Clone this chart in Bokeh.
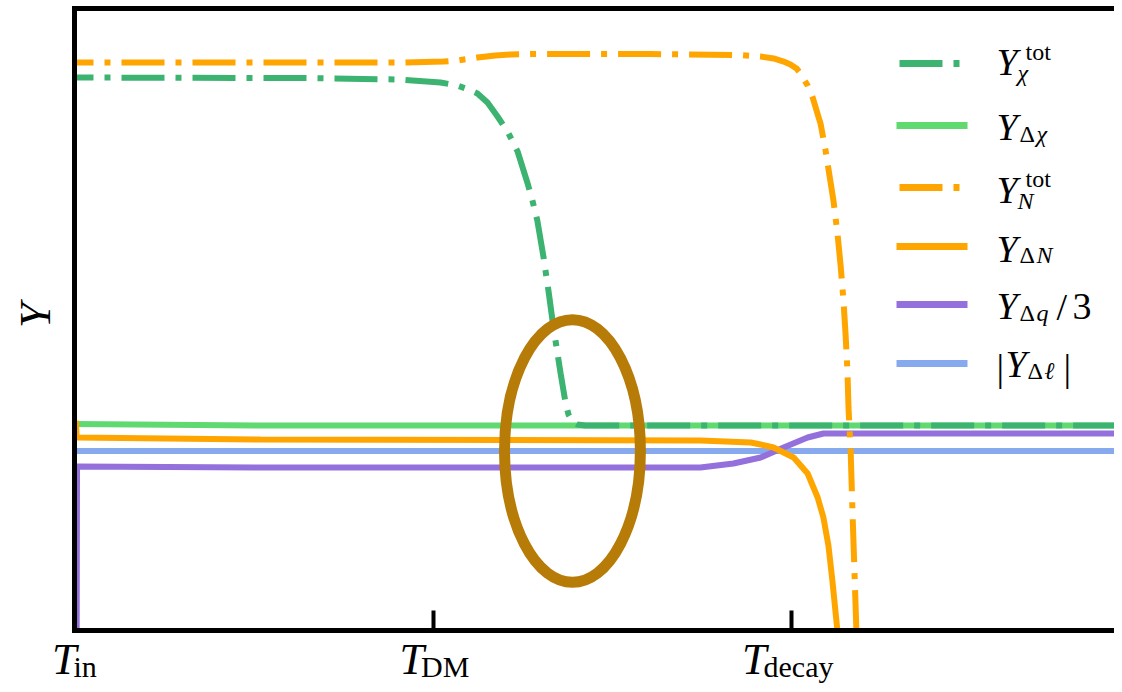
import math
from bokeh.plotting import figure
from bokeh.models import Range1d, FixedTicker, LinearAxis, Label
from bokeh.embed import file_html
from bokeh.resources import INLINE

# ---------------- data ----------------
tick_positions = [0, 1, 2]
tick_main = ["T", "T", "T"]
tick_sub = ["in", "DM", "decay"]

chi_tot_x = [0, 0.630, 0.909, 1.021, 1.068, 1.099, 1.124, 1.152, 1.180, 1.208, 1.236, 1.264,
             1.278, 1.291, 1.308, 1.322, 1.336, 1.356, 1.370, 1.378, 1.389, 1.403, 1.425, 2.923]
chi_tot_y = [89.19, 89.11, 88.87, 88.39, 87.90, 87.26, 86.61, 85.16, 82.90, 80.48, 77.26, 72.10,
             69.19, 66.13, 60.32, 54.84, 48.87, 41.45, 36.61, 34.84, 33.71, 33.23, 33.06, 33.06]

dchi_x = [0.0, 0.519, 2.923]
dchi_y = [33.30, 33.06, 33.06]

N_tot_x = [0, 0.630, 0.909, 1.029, 1.068, 1.124, 1.174, 1.216, 1.280, 1.607, 1.858, 1.914, 1.950,
           1.978, 1.997, 2.014, 2.025, 2.045, 2.059, 2.070, 2.081, 2.095, 2.106, 2.117, 2.128,
           2.137, 2.145, 2.151, 2.156, 2.159, 2.165, 2.170, 2.176, 2.181]
N_tot_y = [91.61, 91.61, 91.61, 91.77, 91.94, 92.42, 92.74, 92.90, 92.98, 92.98, 92.82, 92.58, 92.26,
           91.77, 91.29, 90.65, 89.84, 87.90, 85.97, 83.87, 81.77, 77.42, 73.39, 69.35, 64.19,
           58.87, 53.23, 47.58, 41.94, 35.97, 29.03, 19.35, 8.87, 0.0]

dN_x = [0.004, 0.006, 0.519, 1.746, 1.886, 1.914, 1.950, 2.006, 2.045, 2.073, 2.089, 2.103, 2.114, 2.128]
dN_y = [33.87, 31.13, 30.81, 30.65, 30.32, 30.00, 29.52, 27.90, 25.32, 21.45, 18.23, 13.71, 8.06, 0.0]

dq_x = [0.006, 0.007, 0.519, 1.746, 1.838, 1.914, 1.978, 2.045, 2.089, 2.137, 2.923]
dq_y = [0.0, 26.45, 26.29, 26.29, 26.94, 27.90, 29.52, 31.13, 31.77, 31.77, 31.77]

dl_x = [0.006, 2.923]
dl_y = [28.95, 28.95]

# highlighted region (ellipse)
ellipse_x = [1.389]
ellipse_y = [28.95]
ellipse_w = 0.379
ellipse_h = 42.4

# ---------------- layout (canvas pixels) ----------------
W, H = 1114, 684
ORIGIN_PX, ORIGIN_PY = 74, 630   # where (0, 0) sits
PX_PER_X, PX_PER_Y = 358.5, 6.2
MID = 0.30  # em distance from the text baseline to its "middle" anchor


def px2x(px):
    return (px - ORIGIN_PX) / PX_PER_X


def py2y(py):
    return (ORIGIN_PY - py) / PX_PER_Y


Y_TOP = py2y(8)
X_RIGHT = px2x(W)

DKGREEN = "#3cb371"
LTGREEN = "#5fd970"
ORANGE = "#ffa500"
PURPLE = "#9370db"
BLUE = "#87aaee"
BROWN = "#b77b07"
DASHDOT = "43 11 6 11"
FONT = "Liberation Serif"

p = figure(width=W, height=H, output_backend="svg", toolbar_location=None,
           x_range=Range1d(px2x(0), px2x(W)), y_range=Range1d(py2y(H), py2y(0)),
           x_axis_type=None, y_axis_type=None, min_border=0)
p.outline_line_color = None
p.background_fill_color = "white"
p.border_fill_color = "white"


def frame_axis(loc, bounds, ticks):
    return LinearAxis(fixed_location=loc, bounds=bounds, ticker=FixedTicker(ticks=ticks),
                      axis_line_width=5, axis_line_color="black", axis_line_cap="square",
                      major_tick_in=20, major_tick_out=0, major_tick_line_width=4,
                      major_tick_line_color="black", minor_tick_line_color=None,
                      major_label_text_color=None, major_label_text_font_size="1px",
                      major_label_standoff=0)


p.add_layout(frame_axis(0, (0, X_RIGHT), tick_positions), "below")
p.add_layout(frame_axis(0, (0, Y_TOP), []), "left")
p.add_layout(frame_axis(Y_TOP, (0, X_RIGHT), []), "above")

LW = 6
p.line(dl_x, dl_y, line_color=BLUE, line_width=LW)
p.line(dq_x, dq_y, line_color=PURPLE, line_width=LW)
p.line(dchi_x, dchi_y, line_color=LTGREEN, line_width=LW)
p.line(chi_tot_x, chi_tot_y, line_color=DKGREEN, line_width=LW, line_dash=DASHDOT, line_dash_offset=24)
p.line(dN_x, dN_y, line_color=ORANGE, line_width=LW)
p.line(N_tot_x, N_tot_y, line_color=ORANGE, line_width=LW, line_dash=DASHDOT, line_dash_offset=24)

p.ellipse(x=ellipse_x, y=ellipse_y, width=ellipse_w, height=ellipse_h,
          fill_color=None, line_color=BROWN, line_width=11)


def put_text(txt, lx, base, size, style, align="left", angle=0.0):
    """Place text so that its baseline sits at canvas row `base` (or column for rotated text)."""
    if angle:
        x, y = px2x(lx - MID * size), py2y(base)
    else:
        x, y = px2x(lx), py2y(base - MID * size)
    p.add_layout(Label(x=x, y=y, text=txt, text_font=FONT, text_font_size=f"{size}px",
                       text_font_style=style, text_align=align, text_baseline="middle",
                       angle=angle, text_color="black"))


# ---------------- legend (drawn by hand to allow sub/superscripts) ----------------
legend_rows = [
    (63, DKGREEN, True, [("Y", 996, 73, 38, "italic"), ("tot", 1025, 59, 24, "normal"), ("χ", 1017, 80, 24, "italic")]),
    (125, LTGREEN, False, [("Y", 996, 138, 38, "italic"), ("Δ", 1019, 141, 24, "normal"), ("χ", 1036, 141, 24, "italic")]),
    (187, ORANGE, True, [("Y", 996, 201, 38, "italic"), ("tot", 1025, 186, 24, "normal"), ("N", 1017, 208, 24, "italic")]),
    (246, ORANGE, False, [("Y", 996, 260, 38, "italic"), ("Δ", 1019, 262, 24, "normal"), ("N", 1036, 262, 24, "italic")]),
    (304, PURPLE, False, [("Y", 996, 317, 38, "italic"), ("Δ", 1019, 320, 24, "normal"), ("q", 1036, 320, 24, "italic"),
                          ("/", 1056, 318, 38, "normal"), ("3", 1072, 317, 38, "normal")]),
    (363, BLUE, False, [("|", 996, 379, 38, "normal"), ("Y", 1005, 375, 38, "italic"), ("Δ", 1027, 378, 24, "normal"),
                        ("ℓ", 1044, 378, 24, "italic"), ("|", 1063, 379, 38, "normal")]),
]

for line_py, color, dashed, pieces in legend_rows:
    if dashed:
        p.line([px2x(899), px2x(960)], [py2y(line_py)] * 2, line_color=color, line_width=7,
               line_dash=DASHDOT)
    else:
        p.line([px2x(896), px2x(967)], [py2y(line_py)] * 2, line_color=color, line_width=7)
    for txt, lx, base, size, style in pieces:
        put_text(txt, lx, base, size, style)

# ---------------- tick labels T_in, T_DM, T_decay ----------------
sub_offsets = [-1, -12, -28]  # px from tick to subscript start
for pos, main, sub, off in zip(tick_positions, tick_main, tick_sub, sub_offsets):
    sx = ORIGIN_PX + pos * PX_PER_X + off
    put_text(main, sx + 3, 672, 44, "italic", align="right")
    put_text(sub, sx, 675, 30, "normal")

# ---------------- y-axis label ----------------
put_text("Y", 48, 315, 45, "italic", align="center", angle=math.pi / 2)

open("out.html", "w").write(file_html(p, INLINE))
